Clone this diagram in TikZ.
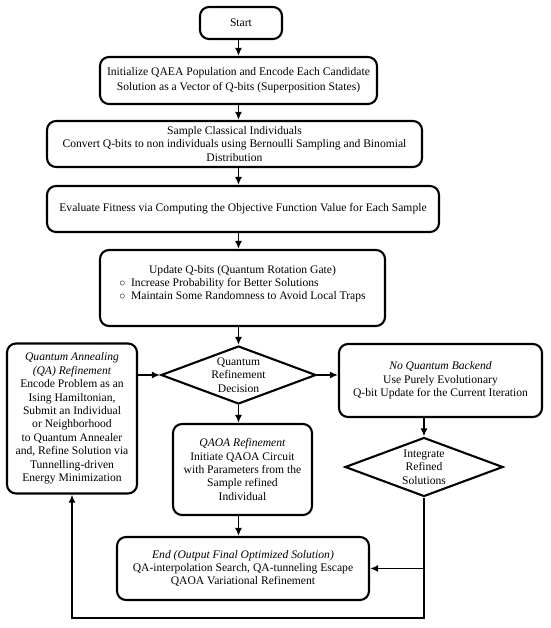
\documentclass[tikz,border=0pt]{standalone}
\usepackage{fontspec}
\setmainfont{Liberation Serif}
\usetikzlibrary{shapes.geometric,arrows.meta}
\begin{document}
\begin{tikzpicture}[x=1pt,y=-1pt,
 txt/.style={font=\fontsize{11.6}{13.4}\selectfont},
 box/.style={draw, line width=2.1pt, rounded corners=9pt, fill=white, align=center, inner sep=0pt, txt},
 dia/.style={draw, diamond, line width=2.1pt, inner sep=0pt, fill=white},
 arr/.style={line width=1.7pt, -{Latex[length=8pt,width=7pt]}},
]
\useasboundingbox[fill=white] (0,0) rectangle (550,628);
\node[box, minimum width=82pt, minimum height=32pt] (start) at (241,23) {Start};
\node[box, minimum width=277pt, minimum height=47pt, font=\fontsize{11.6}{15}\selectfont] (init) at (238.5,80.5)
 {Initialize QAEA Population and Encode Each Candidate\\Solution as a Vector of Q-bits (Superposition States)};
\node[box, minimum width=375pt, minimum height=46pt, font=\fontsize{11.6}{13.8}\selectfont] (sample) at (234.5,144)
 {Sample Classical Individuals\\Convert Q-bits to non individuals using Bernoulli Sampling and Binomial\\Distribution};
\node[box, minimum width=392pt, minimum height=46pt] (eval) at (243,209)
 {Evaluate Fitness via Computing the Objective Function Value for Each Sample};
\node[box, minimum width=285pt, minimum height=76pt] (update) at (242.5,288)
 {Update Q-bits (Quantum Rotation Gate)\\
 \begin{tabular}{@{}l@{}}$\circ$\enspace Increase Probability for Better Solutions\\
 $\circ$\enspace Maintain Some Randomness to Avoid Local Traps\end{tabular}\\[4pt]};
\node[dia, minimum width=155pt, minimum height=58pt,
 label={[align=center, txt]center:Quantum\\Refinement\\Decision}] (decision) at (238.5,375) {};
\node[box, minimum width=130pt, minimum height=150pt] (qa) at (72,418.5)
 {\textit{Quantum Annealing}\\\textit{(QA) Refinement}\\Encode Problem as an\\Ising Hamiltonian,\\Submit an Individual\\or Neighborhood\\to Quantum Annealer\\and, Refine Solution via\\Tunnelling-driven\\Energy Minimization};
\node[box, minimum width=203pt, minimum height=73pt] (noqb) at (440.5,380.5)
 {\textit{No Quantum Backend}\\Use Purely Evolutionary\\Q-bit Update for the Current Iteration};
\node[box, minimum width=139pt, minimum height=91pt] (qaoa) at (242.5,469.5)
 {\textit{QAOA Refinement}\\Initiate QAOA Circuit\\with Parameters from the\\Sample refined\\Individual};
\node[dia, minimum width=158pt, minimum height=59pt,
 label={[align=center, txt]center:Integrate\\Refined\\Solutions}] (integ) at (424,467) {};
\node[box, minimum width=252pt, minimum height=63pt] (end) at (243,568.5)
 {\textit{End (Output Final Optimized Solution)}\\QA-interpolation Search, QA-tunneling Escape\\QAOA Variational Refinement};
\coordinate (loop) at (424,618);
\draw[arr] (start.south -| decision.north) -- (init.north -| decision.north);
\draw[arr] (init.south -| decision.north) -- (sample.north -| decision.north);
\draw[arr] (sample.south -| decision.north) -- (eval.north -| decision.north);
\draw[arr] (eval.south -| decision.north) -- (update.north -| decision.north);
\draw[arr] (update.south -| decision.north) -- (decision.north);
\draw[arr] (decision.west -| qa.east) -- (decision.west);
\draw[arr] (decision.east) -- (decision.east -| noqb.west);
\draw[arr] (decision.south) -- (qaoa.north -| decision.south);
\draw[arr] (qaoa.south -| decision.south) -- (end.north -| decision.south);
\draw[arr] (integ.north |- noqb.south) -- (integ.north);
\draw[arr] (integ.south) |- (end.east);
\draw[arr] (integ.south) -- (loop) -| (qa.south);
\end{tikzpicture}
\end{document}
